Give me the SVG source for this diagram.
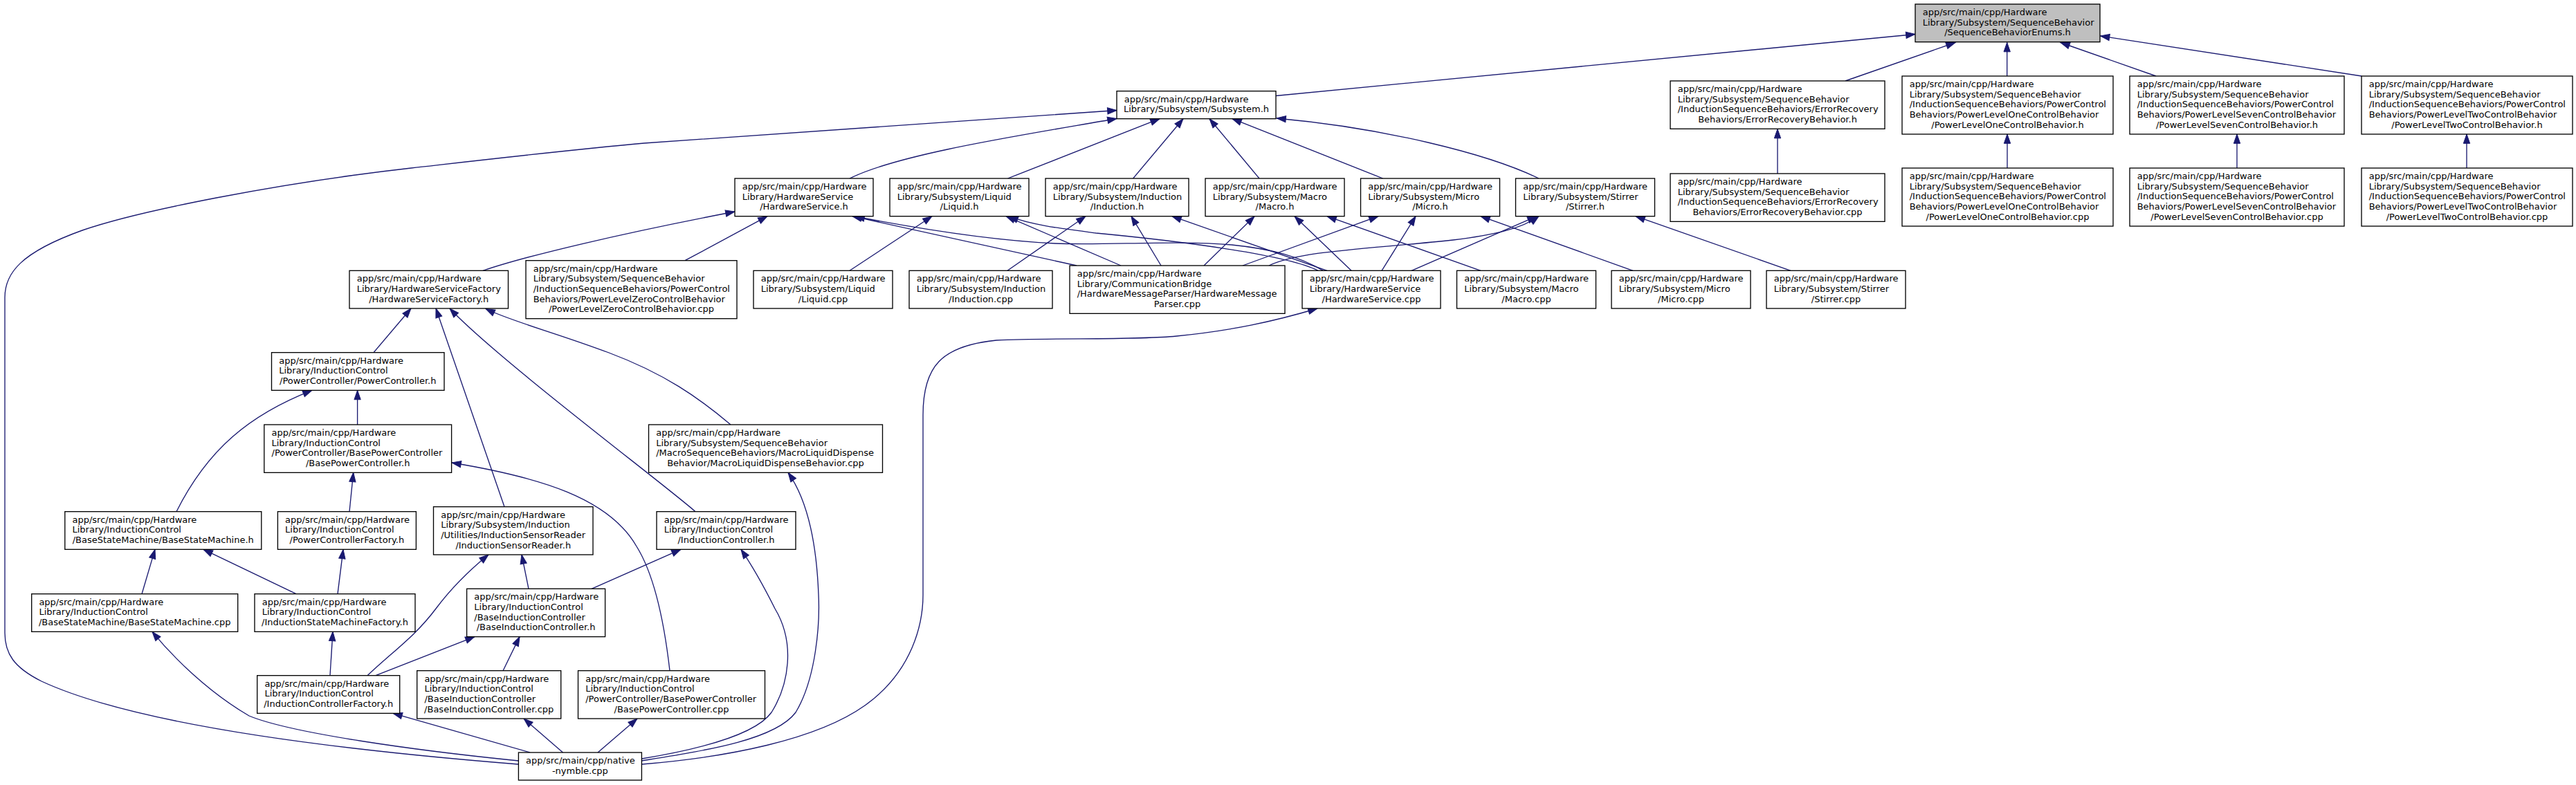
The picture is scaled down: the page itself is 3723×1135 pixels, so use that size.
<svg xmlns="http://www.w3.org/2000/svg" width="3723" height="1135" viewBox="0 0 3723 1135">
<style>
.node rect{fill:#ffffff;stroke:#000000;stroke-width:1.33}
#n_root rect{fill:#bfbfbf}
text{font-family:"DejaVu Sans","Liberation Sans",sans-serif;font-size:13px;fill:#000000}
.l{text-anchor:start}
.c{text-anchor:middle}
.e{fill:none;stroke:#191970;stroke-width:1.33;marker-end:url(#ah)}
</style>
<defs>
<marker id="ah" markerUnits="userSpaceOnUse" markerWidth="14" markerHeight="10" viewBox="0 0 14 10" refX="13.33" refY="5" orient="auto" overflow="visible">
<path d="M0,0.33 L13.33,5 L0,9.67 z" fill="#191970" stroke="#191970" stroke-width="1"/>
</marker>
</defs>
<rect x="0" y="0" width="3723" height="1135" fill="#ffffff"/>
<g id="edges">
<path class="e" d="M1844,138.5 L2768,49.5"/>
<path class="e" d="M2667,117 L2826,61.5"/>
<path class="e" d="M2900.7,110 L2900.7,61.5"/>
<path class="e" d="M3116,110 L2978,61.5"/>
<path class="e" d="M3413,110 L3035.5,52"/>
<path class="e" d="M2569,251 L2569,186.5"/>
<path class="e" d="M2901,243 L2901,194"/>
<path class="e" d="M3233,243 L3233,194"/>
<path class="e" d="M3565,243 L3565,194"/>
<path class="e" d="M1228,258 C1300,222 1480,195 1614,171.5"/>
<path class="e" d="M1456.5,258 L1676,171.7"/>
<path class="e" d="M1637.6,258 L1710,171.7"/>
<path class="e" d="M1820,258 L1748,171.7"/>
<path class="e" d="M1998.6,258 L1781,171.7"/>
<path class="e" d="M2224,258 C2150,222 2000,185 1845,171"/>
<path class="e" d="M749,1105 C500,1085 200,1050 60,985 C20,965 7,945 7,915 L7,430 C7,395 30,365 119,333 C200,305 400,265 594,243 C700,231 820,217 931,207 L1614,159.5"/>
<path class="e" d="M698,391.3 C760,370 900,337 1062,306"/>
<path class="e" d="M990,376.7 L1109,312.7"/>
<path class="e" d="M1556,384 L1232,312.7"/>
<path class="e" d="M1912,391.3 C1880,372 1840,360 1780,354 C1700,347 1600,355 1525,352 C1440,348 1350,335 1236,313"/>
<path class="e" d="M1228,391.3 L1347,312.7"/>
<path class="e" d="M1620,384 L1454,312.7"/>
<path class="e" d="M1905,391.3 C1860,368 1700,348 1584,337 C1530,330 1490,325 1458,312.7"/>
<path class="e" d="M1456,391.3 L1569,312.7"/>
<path class="e" d="M1678,384 L1635,312.7"/>
<path class="e" d="M1918,391.3 L1694,312.7"/>
<path class="e" d="M1740,384 L1813,312.7"/>
<path class="e" d="M1953,391.3 L1871,312.7"/>
<path class="e" d="M2140,391.3 L1918,312.7"/>
<path class="e" d="M1796,384 L1992,312.7"/>
<path class="e" d="M1997,391.3 L2046,312.7"/>
<path class="e" d="M2360,391.3 L2140,312.7"/>
<path class="e" d="M1834,384 C1880,362 1980,360 2100,347 C2160,340 2200,330 2224,312.7"/>
<path class="e" d="M2040,391.3 L2221,312.7"/>
<path class="e" d="M2588,391.3 L2364,312.7"/>
<path class="e" d="M540,509.7 L594,446"/>
<path class="e" d="M729,732.7 L630,446"/>
<path class="e" d="M1005,739.7 C960,700 720,520 650,446"/>
<path class="e" d="M1056,614 C1010,575 960,540 880,510 C800,480 740,465 702,446.5"/>
<path class="e" d="M516.6,614 L516.6,564.4"/>
<path class="e" d="M255,739.7 C300,650 360,600 451,564.4"/>
<path class="e" d="M505,739.7 L510.7,683.3"/>
<path class="e" d="M968,969.7 C960,900 945,830 920,790 C880,720 780,690 653,669"/>
<path class="e" d="M855,851.3 L984,794.4"/>
<path class="e" d="M927.6,1097 C1000,1085 1090,1065 1115,1030 C1140,990 1150,930 1120,880 C1100,840 1085,815 1071,794.4"/>
<path class="e" d="M927.6,1100 C1020,1085 1120,1070 1150,1030 C1180,980 1185,900 1183,860 C1180,780 1165,720 1139,683.3"/>
<path class="e" d="M927.6,1105 C1050,1095 1180,1070 1250,1020 C1320,970 1334,900 1334,860 L1334,600 C1334,530 1360,500 1440,492 C1520,488 1640,492 1700,486 C1780,478 1840,465 1904,446"/>
<path class="e" d="M205,858.7 L224,794.4"/>
<path class="e" d="M428,858.7 L294,794.4"/>
<path class="e" d="M488,858.7 L496,794.4"/>
<path class="e" d="M531,976.7 C570,940 600,920 630,880 C660,840 690,815 706,802"/>
<path class="e" d="M764,851.3 L754,802"/>
<path class="e" d="M543,976.7 L686,920.6"/>
<path class="e" d="M727,969.7 L751,920.6"/>
<path class="e" d="M477,976.7 L481,913.3"/>
<path class="e" d="M766,1088 L568,1031.3"/>
<path class="e" d="M813.5,1088 L757,1039"/>
<path class="e" d="M864,1088 L921,1039"/>
<path class="e" d="M749.4,1100 C600,1085 420,1060 360,1035 C300,1000 250,950 220,913.3"/>
</g>

<g id="n_root" class="node"><rect x="2768" y="6" width="267" height="54.67"/>
<text class="l" x="2778.7" y="22">app/src/main/cpp/Hardware</text>
<text class="l" x="2778.7" y="36.67">Library/Subsystem/SequenceBehavior</text>
<text class="c" x="2901.5" y="51.33">/SequenceBehaviorEnums.h</text></g>

<g id="n_subsystem_h" class="node"><rect x="1614" y="131.7" width="230" height="40"/>
<text class="l" x="1624.7" y="147.7">app/src/main/cpp/Hardware</text>
<text class="c" x="1729" y="162.3">Library/Subsystem/Subsystem.h</text></g>

<g id="n_err_h" class="node"><rect x="2414" y="117" width="310" height="69.33"/>
<text class="l" x="2424.7" y="133">app/src/main/cpp/Hardware</text>
<text class="l" x="2424.7" y="147.67">Library/Subsystem/SequenceBehavior</text>
<text class="l" x="2424.7" y="162.33">/InductionSequenceBehaviors/ErrorRecovery</text>
<text class="c" x="2569" y="177">Behaviors/ErrorRecoveryBehavior.h</text></g>

<g id="n_pl1_h" class="node"><rect x="2749" y="110" width="305" height="84"/>
<text class="l" x="2759.7" y="126">app/src/main/cpp/Hardware</text>
<text class="l" x="2759.7" y="140.67">Library/Subsystem/SequenceBehavior</text>
<text class="l" x="2759.7" y="155.33">/InductionSequenceBehaviors/PowerControl</text>
<text class="l" x="2759.7" y="170">Behaviors/PowerLevelOneControlBehavior</text>
<text class="c" x="2901.5" y="184.67">/PowerLevelOneControlBehavior.h</text></g>

<g id="n_pl7_h" class="node"><rect x="3078" y="110" width="310" height="84"/>
<text class="l" x="3088.7" y="126">app/src/main/cpp/Hardware</text>
<text class="l" x="3088.7" y="140.67">Library/Subsystem/SequenceBehavior</text>
<text class="l" x="3088.7" y="155.33">/InductionSequenceBehaviors/PowerControl</text>
<text class="l" x="3088.7" y="170">Behaviors/PowerLevelSevenControlBehavior</text>
<text class="c" x="3233" y="184.67">/PowerLevelSevenControlBehavior.h</text></g>

<g id="n_pl2_h" class="node"><rect x="3413" y="110" width="305" height="84"/>
<text class="l" x="3423.7" y="126">app/src/main/cpp/Hardware</text>
<text class="l" x="3423.7" y="140.67">Library/Subsystem/SequenceBehavior</text>
<text class="l" x="3423.7" y="155.33">/InductionSequenceBehaviors/PowerControl</text>
<text class="l" x="3423.7" y="170">Behaviors/PowerLevelTwoControlBehavior</text>
<text class="c" x="3565.5" y="184.67">/PowerLevelTwoControlBehavior.h</text></g>

<g id="n_err_cpp" class="node"><rect x="2414" y="251" width="310" height="69.33"/>
<text class="l" x="2424.7" y="267">app/src/main/cpp/Hardware</text>
<text class="l" x="2424.7" y="281.67">Library/Subsystem/SequenceBehavior</text>
<text class="l" x="2424.7" y="296.33">/InductionSequenceBehaviors/ErrorRecovery</text>
<text class="c" x="2569" y="311">Behaviors/ErrorRecoveryBehavior.cpp</text></g>

<g id="n_pl1_cpp" class="node"><rect x="2749" y="243" width="305" height="84"/>
<text class="l" x="2759.7" y="259">app/src/main/cpp/Hardware</text>
<text class="l" x="2759.7" y="273.67">Library/Subsystem/SequenceBehavior</text>
<text class="l" x="2759.7" y="288.33">/InductionSequenceBehaviors/PowerControl</text>
<text class="l" x="2759.7" y="303">Behaviors/PowerLevelOneControlBehavior</text>
<text class="c" x="2901.5" y="317.67">/PowerLevelOneControlBehavior.cpp</text></g>

<g id="n_pl7_cpp" class="node"><rect x="3078" y="243" width="310" height="84"/>
<text class="l" x="3088.7" y="259">app/src/main/cpp/Hardware</text>
<text class="l" x="3088.7" y="273.67">Library/Subsystem/SequenceBehavior</text>
<text class="l" x="3088.7" y="288.33">/InductionSequenceBehaviors/PowerControl</text>
<text class="l" x="3088.7" y="303">Behaviors/PowerLevelSevenControlBehavior</text>
<text class="c" x="3233" y="317.67">/PowerLevelSevenControlBehavior.cpp</text></g>

<g id="n_pl2_cpp" class="node"><rect x="3413" y="243" width="305" height="84"/>
<text class="l" x="3423.7" y="259">app/src/main/cpp/Hardware</text>
<text class="l" x="3423.7" y="273.67">Library/Subsystem/SequenceBehavior</text>
<text class="l" x="3423.7" y="288.33">/InductionSequenceBehaviors/PowerControl</text>
<text class="l" x="3423.7" y="303">Behaviors/PowerLevelTwoControlBehavior</text>
<text class="c" x="3565.5" y="317.67">/PowerLevelTwoControlBehavior.cpp</text></g>

<g id="n_hws_h" class="node"><rect x="1062" y="258" width="200" height="54.67"/>
<text class="l" x="1072.7" y="274">app/src/main/cpp/Hardware</text>
<text class="l" x="1072.7" y="288.67">Library/HardwareService</text>
<text class="c" x="1162" y="303.33">/HardwareService.h</text></g>

<g id="n_liquid_h" class="node"><rect x="1286" y="258" width="201" height="54.67"/>
<text class="l" x="1296.7" y="274">app/src/main/cpp/Hardware</text>
<text class="l" x="1296.7" y="288.67">Library/Subsystem/Liquid</text>
<text class="c" x="1386.5" y="303.33">/Liquid.h</text></g>

<g id="n_induction_h" class="node"><rect x="1511" y="258" width="207" height="54.67"/>
<text class="l" x="1521.7" y="274">app/src/main/cpp/Hardware</text>
<text class="l" x="1521.7" y="288.67">Library/Subsystem/Induction</text>
<text class="c" x="1614.5" y="303.33">/Induction.h</text></g>

<g id="n_macro_h" class="node"><rect x="1742" y="258" width="201" height="54.67"/>
<text class="l" x="1752.7" y="274">app/src/main/cpp/Hardware</text>
<text class="l" x="1752.7" y="288.67">Library/Subsystem/Macro</text>
<text class="c" x="1842.5" y="303.33">/Macro.h</text></g>

<g id="n_micro_h" class="node"><rect x="1966.5" y="258" width="201" height="54.67"/>
<text class="l" x="1977.2" y="274">app/src/main/cpp/Hardware</text>
<text class="l" x="1977.2" y="288.67">Library/Subsystem/Micro</text>
<text class="c" x="2067" y="303.33">/Micro.h</text></g>

<g id="n_stirrer_h" class="node"><rect x="2190.5" y="258" width="201" height="54.67"/>
<text class="l" x="2201.2" y="274">app/src/main/cpp/Hardware</text>
<text class="l" x="2201.2" y="288.67">Library/Subsystem/Stirrer</text>
<text class="c" x="2291" y="303.33">/Stirrer.h</text></g>

<g id="n_pl0_cpp" class="node"><rect x="760" y="376.7" width="305" height="84"/>
<text class="l" x="770.7" y="392.7">app/src/main/cpp/Hardware</text>
<text class="l" x="770.7" y="407.3">Library/Subsystem/SequenceBehavior</text>
<text class="l" x="770.7" y="422">/InductionSequenceBehaviors/PowerControl</text>
<text class="l" x="770.7" y="436.7">Behaviors/PowerLevelZeroControlBehavior</text>
<text class="c" x="912.5" y="451.3">/PowerLevelZeroControlBehavior.cpp</text></g>

<g id="n_hsf_h" class="node"><rect x="505" y="391.3" width="229.5" height="54.67"/>
<text class="l" x="515.7" y="407.3">app/src/main/cpp/Hardware</text>
<text class="l" x="515.7" y="422">Library/HardwareServiceFactory</text>
<text class="c" x="619.75" y="436.7">/HardwareServiceFactory.h</text></g>

<g id="n_liquid_cpp" class="node"><rect x="1089" y="391.3" width="201" height="54.67"/>
<text class="l" x="1099.7" y="407.3">app/src/main/cpp/Hardware</text>
<text class="l" x="1099.7" y="422">Library/Subsystem/Liquid</text>
<text class="c" x="1189.5" y="436.7">/Liquid.cpp</text></g>

<g id="n_induction_cpp" class="node"><rect x="1314" y="391.3" width="207" height="54.67"/>
<text class="l" x="1324.7" y="407.3">app/src/main/cpp/Hardware</text>
<text class="l" x="1324.7" y="422">Library/Subsystem/Induction</text>
<text class="c" x="1417.5" y="436.7">/Induction.cpp</text></g>

<g id="n_hmp_cpp" class="node"><rect x="1546" y="384" width="311" height="69.33"/>
<text class="l" x="1556.7" y="400">app/src/main/cpp/Hardware</text>
<text class="l" x="1556.7" y="414.67">Library/CommunicationBridge</text>
<text class="l" x="1556.7" y="429.33">/HardwareMessageParser/HardwareMessage</text>
<text class="c" x="1701.5" y="444">Parser.cpp</text></g>

<g id="n_hws_cpp" class="node"><rect x="1882" y="391.3" width="200" height="54.67"/>
<text class="l" x="1892.7" y="407.3">app/src/main/cpp/Hardware</text>
<text class="l" x="1892.7" y="422">Library/HardwareService</text>
<text class="c" x="1982" y="436.7">/HardwareService.cpp</text></g>

<g id="n_macro_cpp" class="node"><rect x="2105.5" y="391.3" width="201" height="54.67"/>
<text class="l" x="2116.2" y="407.3">app/src/main/cpp/Hardware</text>
<text class="l" x="2116.2" y="422">Library/Subsystem/Macro</text>
<text class="c" x="2206" y="436.7">/Macro.cpp</text></g>

<g id="n_micro_cpp" class="node"><rect x="2329" y="391.3" width="201" height="54.67"/>
<text class="l" x="2339.7" y="407.3">app/src/main/cpp/Hardware</text>
<text class="l" x="2339.7" y="422">Library/Subsystem/Micro</text>
<text class="c" x="2429.5" y="436.7">/Micro.cpp</text></g>

<g id="n_stirrer_cpp" class="node"><rect x="2553" y="391.3" width="201" height="54.67"/>
<text class="l" x="2563.7" y="407.3">app/src/main/cpp/Hardware</text>
<text class="l" x="2563.7" y="422">Library/Subsystem/Stirrer</text>
<text class="c" x="2653.5" y="436.7">/Stirrer.cpp</text></g>

<g id="n_pc_h" class="node"><rect x="392.5" y="509.7" width="249.5" height="54.67"/>
<text class="l" x="403.2" y="525.7">app/src/main/cpp/Hardware</text>
<text class="l" x="403.2" y="540.3">Library/InductionControl</text>
<text class="c" x="517.25" y="555">/PowerController/PowerController.h</text></g>

<g id="n_mld_cpp" class="node"><rect x="937.5" y="614" width="338" height="69.33"/>
<text class="l" x="948.2" y="630">app/src/main/cpp/Hardware</text>
<text class="l" x="948.2" y="644.67">Library/Subsystem/SequenceBehavior</text>
<text class="l" x="948.2" y="659.33">/MacroSequenceBehaviors/MacroLiquidDispense</text>
<text class="c" x="1106.5" y="674">Behavior/MacroLiquidDispenseBehavior.cpp</text></g>

<g id="n_bpc_h" class="node"><rect x="381.8" y="614" width="270.8" height="69.33"/>
<text class="l" x="392.5" y="630">app/src/main/cpp/Hardware</text>
<text class="l" x="392.5" y="644.67">Library/InductionControl</text>
<text class="l" x="392.5" y="659.33">/PowerController/BasePowerController</text>
<text class="c" x="517.2" y="674">/BasePowerController.h</text></g>

<g id="n_bsm_h" class="node"><rect x="93.8" y="739.7" width="284" height="54.67"/>
<text class="l" x="104.5" y="755.7">app/src/main/cpp/Hardware</text>
<text class="l" x="104.5" y="770.3">Library/InductionControl</text>
<text class="c" x="235.8" y="785">/BaseStateMachine/BaseStateMachine.h</text></g>

<g id="n_pcf_h" class="node"><rect x="401.4" y="739.7" width="200" height="54.67"/>
<text class="l" x="412.1" y="755.7">app/src/main/cpp/Hardware</text>
<text class="l" x="412.1" y="770.3">Library/InductionControl</text>
<text class="c" x="501.4" y="785">/PowerControllerFactory.h</text></g>

<g id="n_isr_h" class="node"><rect x="626.5" y="732.7" width="230.5" height="69.33"/>
<text class="l" x="637.2" y="748.7">app/src/main/cpp/Hardware</text>
<text class="l" x="637.2" y="763.3">Library/Subsystem/Induction</text>
<text class="l" x="637.2" y="778">/Utilities/InductionSensorReader</text>
<text class="c" x="741.75" y="792.7">/InductionSensorReader.h</text></g>

<g id="n_ic_h" class="node"><rect x="949" y="739.7" width="201" height="54.67"/>
<text class="l" x="959.7" y="755.7">app/src/main/cpp/Hardware</text>
<text class="l" x="959.7" y="770.3">Library/InductionControl</text>
<text class="c" x="1049.5" y="785">/InductionController.h</text></g>

<g id="n_bsm_cpp" class="node"><rect x="45.7" y="858.7" width="298" height="54.67"/>
<text class="l" x="56.4" y="874.7">app/src/main/cpp/Hardware</text>
<text class="l" x="56.4" y="889.3">Library/InductionControl</text>
<text class="c" x="194.7" y="904">/BaseStateMachine/BaseStateMachine.cpp</text></g>

<g id="n_ismf_h" class="node"><rect x="368" y="858.7" width="232" height="54.67"/>
<text class="l" x="378.7" y="874.7">app/src/main/cpp/Hardware</text>
<text class="l" x="378.7" y="889.3">Library/InductionControl</text>
<text class="c" x="484" y="904">/InductionStateMachineFactory.h</text></g>

<g id="n_bic_h" class="node"><rect x="674.6" y="851.3" width="200" height="69.33"/>
<text class="l" x="685.3" y="867.3">app/src/main/cpp/Hardware</text>
<text class="l" x="685.3" y="882">Library/InductionControl</text>
<text class="l" x="685.3" y="896.7">/BaseInductionController</text>
<text class="c" x="774.6" y="911.3">/BaseInductionController.h</text></g>

<g id="n_icf_h" class="node"><rect x="371.7" y="976.7" width="206" height="54.67"/>
<text class="l" x="382.4" y="992.7">app/src/main/cpp/Hardware</text>
<text class="l" x="382.4" y="1007.3">Library/InductionControl</text>
<text class="c" x="474.7" y="1022">/InductionControllerFactory.h</text></g>

<g id="n_bic_cpp" class="node"><rect x="602.7" y="969.7" width="208" height="69.33"/>
<text class="l" x="613.4" y="985.7">app/src/main/cpp/Hardware</text>
<text class="l" x="613.4" y="1000.3">Library/InductionControl</text>
<text class="l" x="613.4" y="1015">/BaseInductionController</text>
<text class="c" x="706.7" y="1029.7">/BaseInductionController.cpp</text></g>

<g id="n_bpc_cpp" class="node"><rect x="835.5" y="969.7" width="270" height="69.33"/>
<text class="l" x="846.2" y="985.7">app/src/main/cpp/Hardware</text>
<text class="l" x="846.2" y="1000.3">Library/InductionControl</text>
<text class="l" x="846.2" y="1015">/PowerController/BasePowerController</text>
<text class="c" x="970.5" y="1029.7">/BasePowerController.cpp</text></g>

<g id="n_native_cpp" class="node"><rect x="749.4" y="1088" width="178" height="40"/>
<text class="l" x="760.1" y="1104">app/src/main/cpp/native</text>
<text class="c" x="838.4" y="1118.7">-nymble.cpp</text></g>
</svg>
